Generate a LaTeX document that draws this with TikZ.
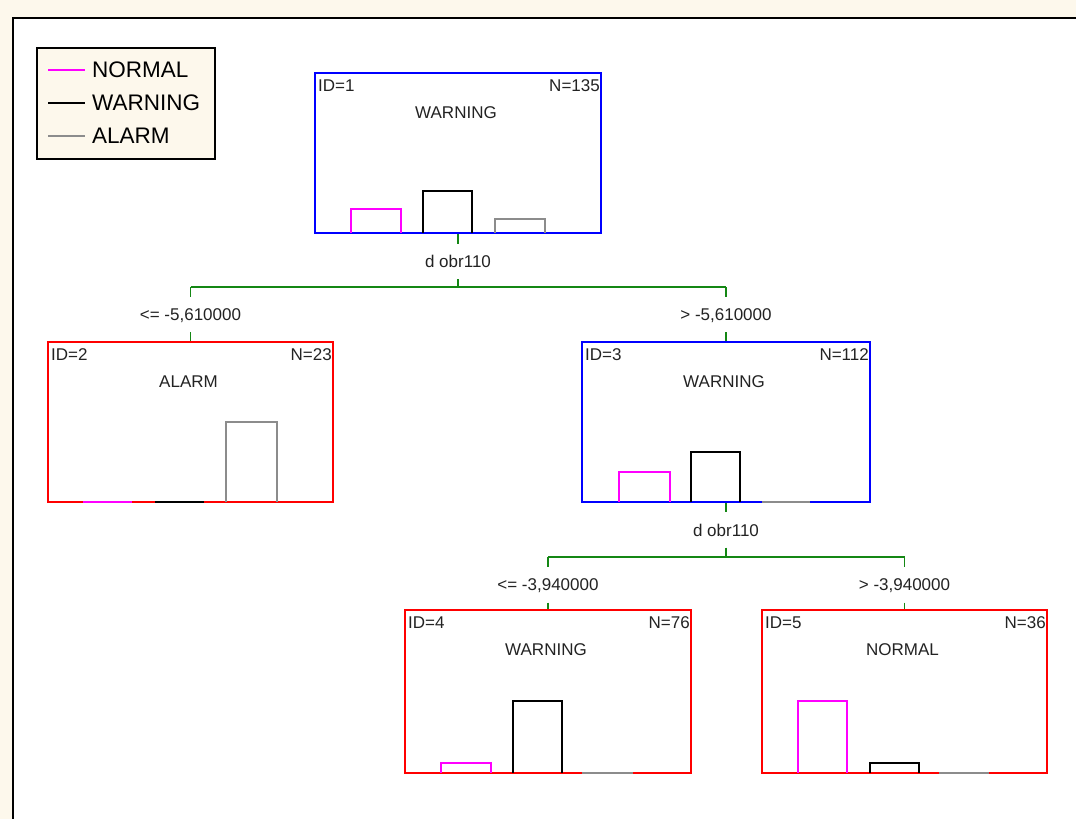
\documentclass[tikz,border=0pt]{standalone}
\usepackage{fontspec}
\setmainfont{Liberation Sans}
\definecolor{cream}{RGB}{253,248,236}
\definecolor{pinkc}{RGB}{255,0,255}
\definecolor{grayc}{RGB}{140,140,140}
\definecolor{bluec}{RGB}{0,0,255}
\definecolor{redc}{RGB}{255,0,0}
\definecolor{greenc}{RGB}{20,135,20}
\definecolor{txt}{RGB}{35,35,35}
\tikzset{
  treebox/.style={draw, line width=2pt, inner sep=0pt, fill=white},
  bluebox/.style={treebox, draw=bluec},
  redbox/.style={treebox, draw=redc},
  smalltxt/.style={inner sep=0pt, text=txt, font=\fontsize{17}{20}\selectfont},
  legtxt/.style={inner sep=0pt, text=black, font=\fontsize{22.5}{26}\selectfont, anchor=west},
  splitlab/.style={smalltxt, minimum height=35pt, text depth=0pt},
  conn/.style={draw=greenc, line width=1.6pt},
  histbar/.style={line width=2pt},
}
\newcommand{\histbox}[5]{% color, x1, x2, base, top
  \draw[histbar, #1] (#2,#4) -- (#2,#5) -- (#3,#5) -- (#3,#4);}
\newcommand{\histflat}[4]{% color, x1, x2, base
  \draw[histbar, #1] (#2,#4) -- (#3,#4);}
\newcommand{\nodelabels}[4]{% name, id, n, class
  \node[smalltxt, anchor=west] (#1id) at ([shift={(4,14)}]#1.north west) {ID=#2};
  \node[smalltxt, anchor=east] (#1n) at ([shift={(-2,14)}]#1.north east) {N=#3};
  \node[smalltxt] (#1cl) at ([shift={(-2,41)}]#1.north) {#4};}
\begin{document}
\begin{tikzpicture}[x=1pt, y=-1pt]
\useasboundingbox (0,0) rectangle (1076,819);
\clip (0,0) rectangle (1076,819);
\fill[cream] (0,0) rectangle (1076,819);
\draw[line width=2.5pt, fill=white] (13,18) rectangle (1100,840);

% legend
\node[draw=black, line width=2pt, fill=cream, minimum width=178pt, minimum height=111pt, inner sep=0pt] (legend) at (126,103.5) {};
\draw[line width=2pt, pinkc] (48,70) -- (85,70);
\draw[line width=2pt, black] (48,103) -- (85,103);
\draw[line width=2pt, grayc] (48,136) -- (85,136);
\node[legtxt] (lgn) at (92,70) {NORMAL};
\node[legtxt] (lgw) at (92,103) {WARNING};
\node[legtxt] (lga) at (92,136) {ALARM};

% tree nodes
\node[bluebox, minimum width=286pt, minimum height=160pt] (n1) at (458,153) {};
\node[redbox, minimum width=285pt, minimum height=160pt] (n2) at (190.5,422) {};
\node[bluebox, minimum width=288pt, minimum height=160pt] (n3) at (726,422) {};
\node[redbox, minimum width=286pt, minimum height=163pt] (n4) at (548,691.5) {};
\node[redbox, minimum width=285pt, minimum height=163pt] (n5) at (904.5,691.5) {};

\nodelabels{n1}{1}{135}{WARNING}
\nodelabels{n2}{2}{23}{ALARM}
\nodelabels{n3}{3}{112}{WARNING}
\nodelabels{n4}{4}{76}{WARNING}
\nodelabels{n5}{5}{36}{NORMAL}

% histograms
\histbox{pinkc}{351}{401}{233}{209}
\histbox{black}{423}{472}{233}{191}
\histbox{grayc}{495}{545}{233}{219}

\histflat{pinkc}{83}{132}{502}
\histflat{black}{155}{204}{502}
\histbox{grayc}{226}{277}{502}{422}

\histbox{pinkc}{619}{670}{502}{472}
\histbox{black}{691}{740}{502}{452}
\histflat{grayc}{762}{810}{502}

\histbox{pinkc}{441}{491}{773}{763}
\histbox{black}{513}{562}{773}{701}
\histflat{grayc}{582}{633}{773}

\histbox{pinkc}{798}{847}{773}{701}
\histbox{black}{870}{919}{773}{763}
\histflat{grayc}{939}{989}{773}

% first split
\node[splitlab] (s1) at (458,261.5) {d obr110};
\coordinate (h1) at (458,287);
\coordinate (h1l) at (190.5,287);
\coordinate (h1r) at (726,287);
\node[splitlab] (c2) at (190.5,314.5) {<= -5,610000};
\node[splitlab] (c3) at (726,314.5) {> -5,610000};
\draw[conn] (n1.south) -- (s1.north);
\draw[conn] (s1.south) -- (h1);
\draw[conn] (h1l) -- (h1r);
\draw[conn] (h1l) -- (c2.north);
\draw[conn] (h1r) -- (c3.north);
\draw[conn] (c2.south) -- (n2.north);
\draw[conn] (c3.south) -- (n3.north);

% second split
\node[splitlab] (s3) at (726,530) {d obr110};
\coordinate (h2) at (726,557);
\coordinate (h2l) at (548,557);
\coordinate (h2r) at (904.5,557);
\node[splitlab] (c4) at (548,585) {<= -3,940000};
\node[splitlab] (c5) at (904.5,585) {> -3,940000};
\draw[conn] (n3.south) -- (s3.north);
\draw[conn] (s3.south) -- (h2);
\draw[conn] (h2l) -- (h2r);
\draw[conn] (h2l) -- (c4.north);
\draw[conn] (h2r) -- (c5.north);
\draw[conn] (c4.south) -- (n4.north);
\draw[conn] (c5.south) -- (n5.north);
\end{tikzpicture}
\end{document}
